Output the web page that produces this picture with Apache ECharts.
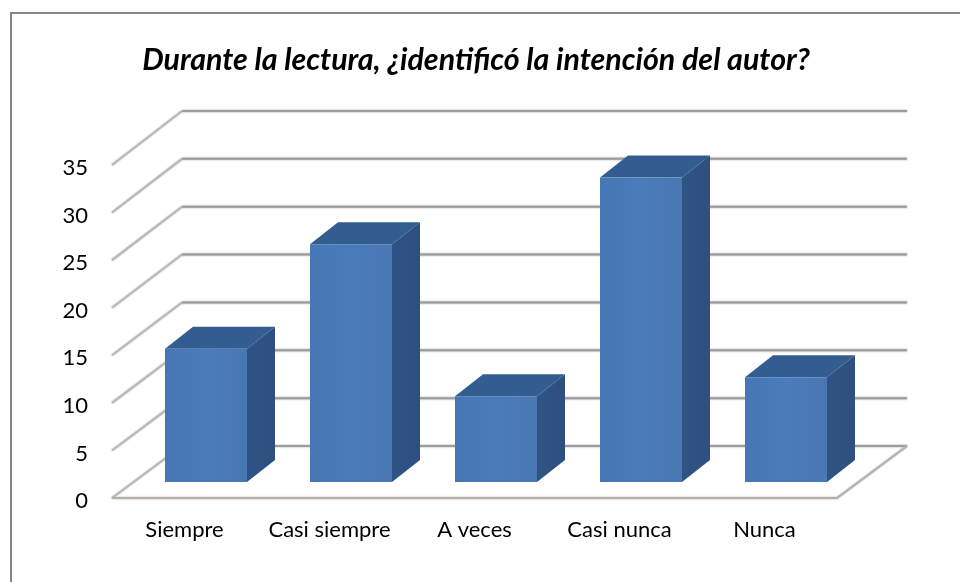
<!DOCTYPE html>
<html><head><meta charset="utf-8">
<style>html,body{margin:0;padding:0;background:#fff}#c{width:960px;height:582px}</style>
<script src="https://cdn.jsdelivr.net/npm/echarts@6/dist/echarts.min.js"></script>
</head><body><div id="c"></div>
<script>
const titleText = 'Durante la lectura, ¿identificó la intención del autor?';
const categories = ['Siempre','Casi siempre','A veces','Casi nunca','Nunca'];
const values = [14,25,9,32,11];
const wallTicks = [0,5,10,15,20,25,30,35];

const wallDX = 70, wallDY = -52, wallScale = 335/333;
const barInX = 21.5, barInY = -16;
const barDX = 28, barDY = -22;
const barWidth = 82;

const chart = echarts.init(document.getElementById('c'), null, {renderer:'canvas'});

function renderWall(params, api){
  const cs = params.coordSys;
  const v = api.value(1);
  const y = api.coord([0, v])[1];
  const bottom = cs.y + cs.height;
  const yb = bottom + (y - bottom) * wallScale + wallDY;
  const x0 = cs.x, x1 = cs.x + wallDX, x2 = cs.x + cs.width + wallDX;
  const soft = (stroke) => ({stroke, lineWidth:2, fill:null, shadowColor:stroke, shadowBlur:2});
  const children = [
    {type:'line', shape:{x1:x0,y1:y,x2:x1,y2:yb}, style:soft('#b8b8b8')},
    {type:'line', shape:{x1:x1,y1:yb,x2:x2,y2:yb}, style:soft('#9c9c9c')}
  ];
  if (v === 0) {
    children.push({type:'polyline', shape:{points:[[x0,y],[cs.x+cs.width,y],[x2,yb]]}, style:soft('#b4b0ac')});
  }
  return {type:'group', children};
}

function renderBar(params, api){
  const base = api.coord([api.value(0), 0]);
  const top = api.coord([api.value(0), api.value(1)]);
  const l = base[0] + barInX - barWidth/2, r = l + barWidth;
  const b = base[1] + barInY, t = top[1] + barInY;
  const poly = (pts, fill) => ({type:'polygon', shape:{points:pts}, style:{fill}});
  const front = new echarts.graphic.LinearGradient(0,0,1,0,[
    {offset:0,color:'#4676b4'},{offset:0.5,color:'#4a7cb9'},{offset:1,color:'#4877b3'}]);
  const side = new echarts.graphic.LinearGradient(0,0,1,0,[
    {offset:0,color:'#2f5383'},{offset:1,color:'#2d5080'}]);
  return {type:'group', children:[
    poly([[l,t],[r,t],[r+barDX,t+barDY],[l+barDX,t+barDY]], '#335c90'),
    poly([[r,t],[r+barDX,t+barDY],[r+barDX,b+barDY],[r,b]], side),
    poly([[l,t],[r,t],[r,b],[l,b]], front)
  ]};
}

chart.setOption({
  animation:false,
  backgroundColor:'#fff',
  title:{text:titleText,left:471,top:40,textAlign:'center',
    textStyle:{fontFamily:'Lato',fontSize:30.4,fontWeight:'bold',fontStyle:'italic',color:'#000'}},
  grid:{left:112,top:165,width:725,height:333},
  xAxis:{type:'category',data:categories,
    axisLine:{show:false},axisTick:{show:false},
    axisLabel:{interval:0,margin:21,color:'#000',fontFamily:'Lato',fontSize:22}},
  yAxis:{type:'value',min:0,max:35,interval:5,
    axisLine:{show:false},axisTick:{show:false},splitLine:{show:false},
    axisLabel:{margin:24,color:'#000',fontFamily:'Lato',fontSize:22,verticalAlign:'top',lineHeight:6}},
  series:[
    {type:'custom',silent:true,renderItem:renderWall,encode:{x:0,y:1},z:1,
     data:wallTicks.map(v=>[0,v])},
    {type:'custom',silent:true,renderItem:renderBar,encode:{x:0,y:1},z:2,
     data:values.map((v,i)=>[i,v])}
  ],
  graphic:[{type:'rect',z:-1,shape:{x:11,y:13,width:1000,height:1000},
    style:{fill:null,stroke:'#868686',lineWidth:2}}]
});
</script></body></html>
